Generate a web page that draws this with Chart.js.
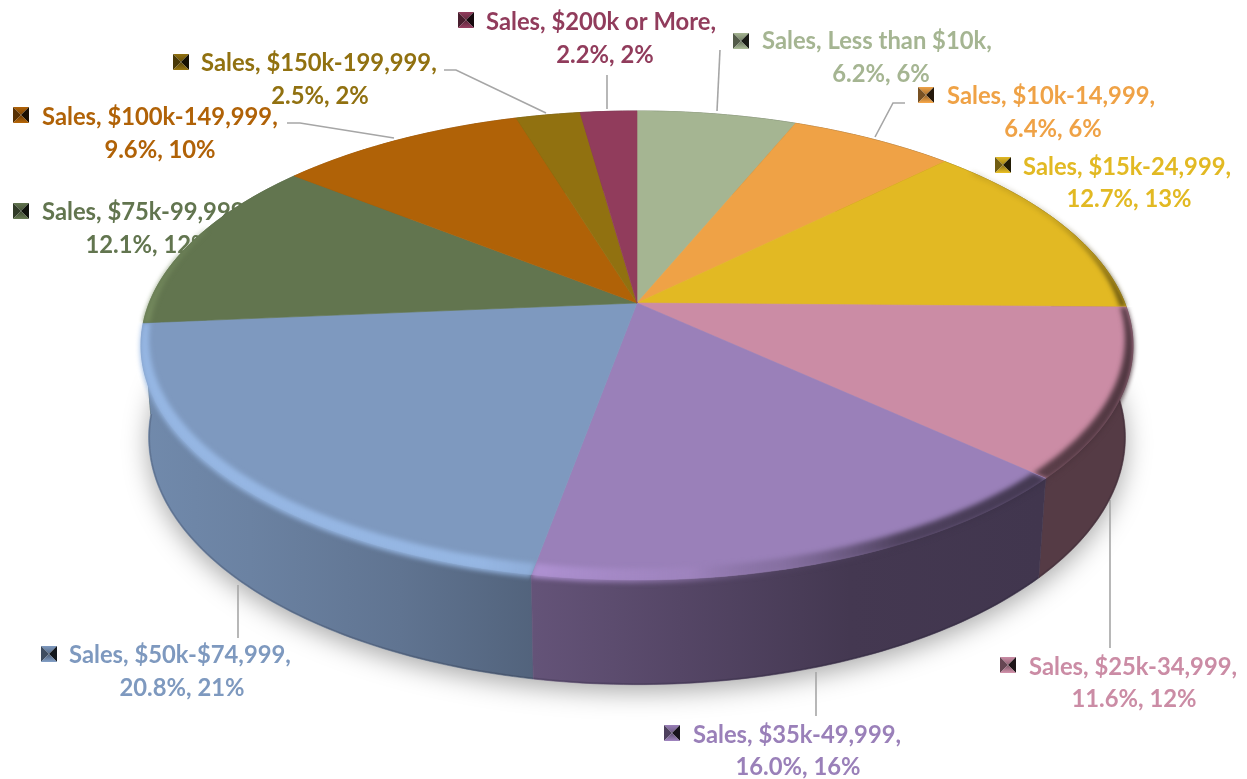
<!DOCTYPE html>
<html><head><meta charset="utf-8">
<style>html,body{margin:0;padding:0;background:#fff}canvas{display:block}</style>
<script src="https://cdn.jsdelivr.net/npm/chart.js@4/dist/chart.umd.js"></script>
</head><body>
<canvas id="c" width="1247" height="779"></canvas>
<script>
const categories = ["Less than $10k","$10k-14,999","$15k-24,999","$25k-34,999","$35k-49,999","$50k-$74,999","$75k-99,999","$100k-149,999","$150k-199,999","$200k or More"];
const salesShare = [6.2,6.4,12.7,11.6,16.0,20.8,12.1,9.6,2.5,2.2];
const shareText = ["6.2%","6.4%","12.7%","11.6%","16.0%","20.8%","12.1%","9.6%","2.5%","2.2%"];
const roundedText = ["6%","6%","13%","12%","16%","21%","12%","10%","2%","2%"];
const sliceColors = ["#A5B592","#EFA246","#E2B923","#CB8CA5","#9A80B9","#7E99BF","#62754F","#B06207","#917110","#913C5C"];
const seriesName = "Sales";

/* label layout: marker left/top, first-line left and centre y, second-line centre */
const labelLayout = [
 {mx:733,my:33,tx:762,ty:41,cx2:881,y2:74},
 {mx:918,my:87,tx:947,ty:96,cx2:1053,y2:129},
 {mx:995,my:157,tx:1023,ty:167,cx2:1129,y2:199},
 {mx:1000,my:657,tx:1029,ty:667,cx2:1134,y2:699},
 {mx:664,my:725,tx:693,ty:735,cx2:798,y2:767},
 {mx:41,my:646,tx:69,ty:655,cx2:182,y2:688},
 {mx:13,my:203,tx:42,ty:212,cx2:148,y2:245},
 {mx:13,my:107,tx:42,ty:117,cx2:160,y2:150},
 {mx:173,my:54,tx:201,ty:63,cx2:320,y2:96},
 {mx:458,my:12,tx:486,ty:22,cx2:605,y2:55}
];
const leaderLines = [
 [[720,50],[717,111]],
 [[905,103],[893,103],[875,137]],
 null,
 [[1110,648],[1110,500]],
 [[816,716],[816,672]],
 [[238,638],[238,585]],
 null,
 [[287,123],[300,123],[394,138]],
 [[444,70],[456,70],[546,113]],
 [[607,75],[607,109]]
];
const LABEL_FONT = '700 23.8px Lato, "Open Sans", sans-serif';

/* perspective view of the flat disc */
const VIEW = {A:487.8,B:226.8,k:-0.181,depthW:0.015,depthY:91.5};
function proj(el,a,r,low){
  const u=Math.cos(a)*r, v=Math.sin(a)*r;
  const w=1+VIEW.k*v+(low?VIEW.depthW:0);
  return [el.x+VIEW.A*u/w, el.y+(VIEW.B*v+(low?VIEW.depthY:0))/w];
}
function hexRgb(h){return [1,3,5].map(i=>parseInt(h.substr(i,2),16));}
function mult(c,s,al){const r=hexRgb(c).map(v=>Math.min(255,Math.round(v*s)));return `rgba(${r[0]},${r[1]},${r[2]},${al===undefined?1:al})`;}
const wallShade=[[140,.90],[250,.85],[400,.76],[535,.65],[680,.55],[850,.44],[1040,.42],[1135,.42]];
function steps(a0,a1){const n=Math.max(2,Math.ceil(Math.abs(a1-a0)/(Math.PI/180)));const o=[];for(let i=0;i<=n;i++)o.push(a0+(a1-a0)*i/n);return o;}
function facePath(ctx,el,a0,a1,r){
  ctx.beginPath();ctx.moveTo(el.x,el.y);
  steps(a0,a1).forEach(a=>{const p=proj(el,a,r||1,false);ctx.lineTo(p[0],p[1]);});
  ctx.closePath();
}
function drawWall(ctx,el,col){
  const s=steps(el.startAngle,el.endAngle);
  const g=ctx.createLinearGradient(140,0,1135,0);
  wallShade.forEach(([x,v])=>g.addColorStop((x-140)/995,mult(col,v)));
  ctx.beginPath();
  s.forEach((a,i)=>{const p=proj(el,a,1,false);i?ctx.lineTo(p[0],p[1]):ctx.moveTo(p[0],p[1]);});
  s.slice().reverse().forEach(a=>{const p=proj(el,a,1,true);ctx.lineTo(p[0],p[1]);});
  ctx.closePath();
  ctx.fillStyle=g;ctx.strokeStyle=g;ctx.lineWidth=.6;ctx.fill();ctx.stroke();
  ctx.save();ctx.clip();
  ctx.beginPath();
  s.forEach((a,i)=>{const p=proj(el,a,1,true);i?ctx.lineTo(p[0],p[1]):ctx.moveTo(p[0],p[1]);});
  ctx.strokeStyle='rgba(20,20,40,.18)';ctx.lineWidth=3;ctx.stroke();
  ctx.restore();
}
function drawMarker(ctx,x,y,col){
  const S=16,cx=x+S/2,cy=y+S/2;
  const tri=(a,b,c,f)=>{ctx.beginPath();ctx.moveTo(...a);ctx.lineTo(...b);ctx.lineTo(...c);ctx.closePath();ctx.fillStyle=f;ctx.fill();};
  const tl=[x,y],tr=[x+S,y],bl=[x,y+S],br=[x+S,y+S],m=[cx,cy];
  const gt=ctx.createLinearGradient(0,y,0,cy);
  gt.addColorStop(0,mult(col,1));gt.addColorStop(1,mult(col,.7));
  tri(tl,tr,m,gt);
  tri(tl,bl,m,mult(col,.5));
  tri(tr,br,m,mult(col,.15));
  const g=ctx.createLinearGradient(0,cy,0,y+S);
  g.addColorStop(0,mult(col,.6));g.addColorStop(1,mult(col,1.05));
  tri(bl,br,m,g);
}
/* the library's arc elements draw themselves through the perspective view */
const ArcProto=(Chart.ArcElement||Chart.registry.getElement('arc')).prototype;
ArcProto.draw=function(ctx){
  const col=this.options.backgroundColor;
  ctx.save();
  facePath(ctx,this,this.startAngle,this.endAngle);
  ctx.fillStyle=col;ctx.strokeStyle=col;ctx.lineWidth=.6;ctx.fill();ctx.stroke();
  const lo=Math.max(this.startAngle,-40*Math.PI/180),hi=Math.min(this.endAngle,200*Math.PI/180);
  if(hi>lo){
    facePath(ctx,this,this.startAngle,this.endAngle,1.03);
    ctx.clip();
    const g=ctx.createLinearGradient(140,0,1135,0);
    const st=x=>(x-140)/995;
    g.addColorStop(0,mult(col,1.2,.95));
    g.addColorStop(st(480),mult(col,1.2,.95));
    g.addColorStop(st(560),mult(col,1.12,.9));
    g.addColorStop(st(690),mult(col,1.05,.5));
    g.addColorStop(st(780),mult(col,.6,.3));
    g.addColorStop(st(900),mult(col,.42,.85));
    g.addColorStop(1,mult(col,.36,.95));
    ctx.filter='blur(2.6px)';
    const s=steps(lo,hi);
    ctx.beginPath();
    s.forEach((a,i)=>{const p=proj(this,a,1+.008*Math.max(Math.sin(a),0),false);i?ctx.lineTo(p[0],p[1]):ctx.moveTo(p[0],p[1]);});
    s.slice().reverse().forEach(a=>{
      const v=Math.sin(a),w=Math.max(.003,.012+.022*v);
      const p=proj(this,a,1-w,false);ctx.lineTo(p[0],p[1]);
    });
    ctx.closePath();
    ctx.fillStyle=g;ctx.fill();
    ctx.filter='none';
  }
  ctx.restore();
};
const scenePlugin={
  id:'scene',
  beforeDatasetsDraw(chart){
    const ctx=chart.ctx,arcs=chart.getDatasetMeta(0).data,e=arcs[0];
    /* shadow on the ground */
    ctx.save();
    ctx.beginPath();
    steps(0,Math.PI*2).forEach((a,i)=>{const p=proj(e,a,1,true);i?ctx.lineTo(p[0],p[1]):ctx.moveTo(p[0],p[1]);});
    ctx.closePath();
    ctx.shadowColor='rgba(0,0,0,.34)';ctx.shadowBlur=26;ctx.shadowOffsetY=7;
    ctx.fillStyle='#ccc';ctx.fill();
    ctx.restore();
    /* labels and leaders sit behind the pie */
    ctx.save();
    ctx.font=LABEL_FONT;ctx.textBaseline='middle';
    categories.forEach((cat,i)=>{
      const L=labelLayout[i],col=sliceColors[i];
      drawMarker(ctx,L.mx,L.my,col);
      ctx.fillStyle=col;ctx.textAlign='left';
      ctx.fillText(`${seriesName}, ${cat},`,L.tx,L.ty);
      ctx.textAlign='center';
      ctx.fillText(`${shareText[i]}, ${roundedText[i]}`,L.cx2,L.y2);
      const ln=leaderLines[i];
      if(ln){ctx.beginPath();ln.forEach((p,j)=>j?ctx.lineTo(p[0],p[1]):ctx.moveTo(p[0],p[1]));
        ctx.strokeStyle='#A6A6A6';ctx.lineWidth=1.6;ctx.stroke();}
    });
    ctx.restore();
    /* walls back to front */
    arcs.map((el,i)=>({el,i,d:Math.sin((el.startAngle+el.endAngle)/2)}))
        .sort((a,b)=>a.d-b.d)
        .forEach(o=>drawWall(ctx,o.el,sliceColors[o.i]));
  }
};
new Chart(document.getElementById('c'),{
  type:'pie',
  data:{labels:categories,datasets:[{label:seriesName,data:salesShare,backgroundColor:sliceColors,borderWidth:0}]},
  options:{responsive:false,animation:false,
    layout:{padding:{left:27,bottom:173}},
    plugins:{legend:{display:false},tooltip:{enabled:false}}},
  plugins:[scenePlugin]
});
</script>
</body></html>
